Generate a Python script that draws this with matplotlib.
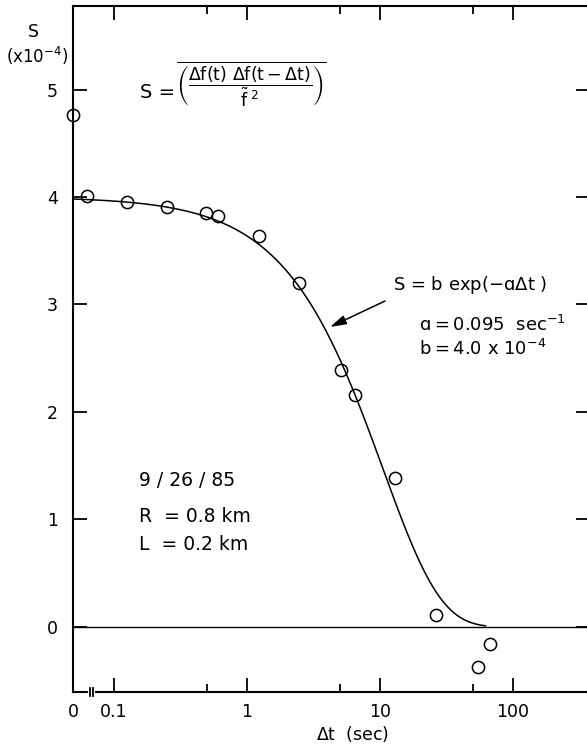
import numpy as np
import matplotlib
matplotlib.use("Agg")
import matplotlib.pyplot as plt
import matplotlib.transforms as mtransforms

plt.rcParams['font.family'] = ['DejaVu Sans']
plt.rcParams['mathtext.fontset'] = 'dejavusans'
plt.rcParams['mathtext.default'] = 'regular'

# ---- data ----
dt_obs = [0, 0.063, 0.125, 0.25, 0.49, 0.61, 1.23, 2.46, 5.1, 6.5, 13.0, 26.4, 54.6, 67.0]
S_obs = [4.76, 4.01, 3.95, 3.91, 3.85, 3.82, 3.64, 3.20, 2.39, 2.16, 1.39, 0.11, -0.37, -0.16]

# fit parameters shown in the chart
a_fit = 0.095          # sec^-1
b_fit = 4.0            # x 10^-4
fit_dt_max = 63.0

x_major = [0, 0.1, 1, 10, 100]
x_major_labels = ['0', '0.1', '1', '10', '100']
x_minor = [0.5, 5, 50]
y_major = [0, 1, 2, 3, 4, 5]
y_major_labels = ['0', '1', '2', '3', '4', '5']

# ---- figure ----
W, H = 587, 748
fig = plt.figure(figsize=(W / 100, H / 100), dpi=100)

def px(x, y):
    return (x / W, 1 - y / H)

L_px, R_px, T_px, B_px = 73, 590, 6, 692
ax = fig.add_axes([L_px / W, 1 - B_px / H, (R_px - L_px) / W, (B_px - T_px) / H])

# log scale with Delta t = 0 placed at the left edge (broken axis)
x_zero = 0.0492
def fwd(x):
    x = np.asarray(x, dtype=float)
    return np.log10(np.maximum(x, x_zero))
def inv(y):
    return 10.0 ** np.asarray(y, dtype=float)
ax.set_xscale('function', functions=(fwd, inv))
ax.set_xlim(0, 379)
ax.set_ylim(-0.605, 5.777)

# fit curve
dt_fit = np.concatenate([[0.0], np.logspace(np.log10(x_zero), np.log10(fit_dt_max), 400)])
S_fit = b_fit * np.exp(-a_fit * dt_fit)
ax.plot(dt_fit, S_fit, color='black', lw=1.1, solid_capstyle='butt')

# zero line
ax.axhline(0, color='black', lw=1.0)

# observations
ax.plot(dt_obs, S_obs, linestyle='none', marker='o', markersize=8.8,
        markerfacecolor='none', markeredgecolor='black', markeredgewidth=1.1,
        clip_on=False, zorder=5)

# ticks
ax.set_xticks(x_major)
ax.set_xticklabels(x_major_labels)
ax.set_xticks(x_minor, minor=True)
ax.set_xticklabels([], minor=True)
ax.set_yticks(y_major)
ax.set_yticklabels(y_major_labels)
ax.tick_params(axis='both', which='major', direction='in', length=10, width=1.3,
               labelsize=12.5, top=True, right=True, color='black')
ax.tick_params(axis='x', which='major', pad=8)
ax.tick_params(axis='y', which='major', pad=11)
ax.tick_params(axis='x', which='minor', direction='in', length=6, width=1.3, top=True)
ax.tick_params(axis='y', which='minor', left=False, right=False)
for sp in ax.spines.values():
    sp.set_linewidth(1.5)

# axis break mark on bottom axis
trans = mtransforms.blended_transform_factory(ax.transData, ax.transAxes)
ax.plot([0.0655, 0.0700], [0, 0], color='white', lw=3, transform=trans, clip_on=False, zorder=6)
for xb in (0.0655, 0.0700):
    ax.plot([xb, xb], [-0.006, 0.006], color='black', lw=1.3, transform=trans,
            clip_on=False, zorder=7)

# axis labels
fig.text(*px(33, 32), 'S', ha='center', va='center', fontsize=12.5)
fig.text(*px(37, 56), r'(x10$^{-4}$)', ha='center', va='center', fontsize=12)
fig.text(*px(353, 734), r'$\Delta$t  (sec)', ha='center', va='center', fontsize=12.5)

# annotations
fig.text(*px(140, 93), 'S =', ha='left', va='center', fontsize=14)
fig.text(*px(176, 84),
         r'$\overline{\left(\dfrac{\Delta f(t)\ \Delta f(t-\Delta t)}{\tilde{f}^{\ 2}}\right)}$',
         ha='left', va='center', fontsize=12.5)
fig.text(*px(393, 285), 'S = b exp(−ɑ' + r'$\Delta$' + 't )', ha='left', va='center', fontsize=13)
fig.text(*px(419, 325), 'ɑ\u2009=\u20090.095  sec' + r'$^{-1}$', ha='left', va='center', fontsize=13)
fig.text(*px(419, 349), 'b\u2009=\u20094.0 x 10' + r'$^{-4}$', ha='left', va='center', fontsize=13)
fig.text(*px(139, 481), '9 / 26 / 85', ha='left', va='center', fontsize=13.5)
fig.text(*px(139, 516), 'R  = 0.8 km', ha='left', va='center', fontsize=13.5)
fig.text(*px(139, 544), 'L  = 0.2 km', ha='left', va='center', fontsize=13.5)

arr = ax.annotate('', xy=px(330, 327), xycoords='figure fraction',
                  xytext=px(385, 301), textcoords='figure fraction',
                  arrowprops=dict(arrowstyle='-|>,head_length=0.7,head_width=0.2',
                                  color='black', lw=1.1, shrinkA=0, shrinkB=0,
                                  mutation_scale=14),
                  annotation_clip=False)

fig.savefig('out.png', dpi=100)
